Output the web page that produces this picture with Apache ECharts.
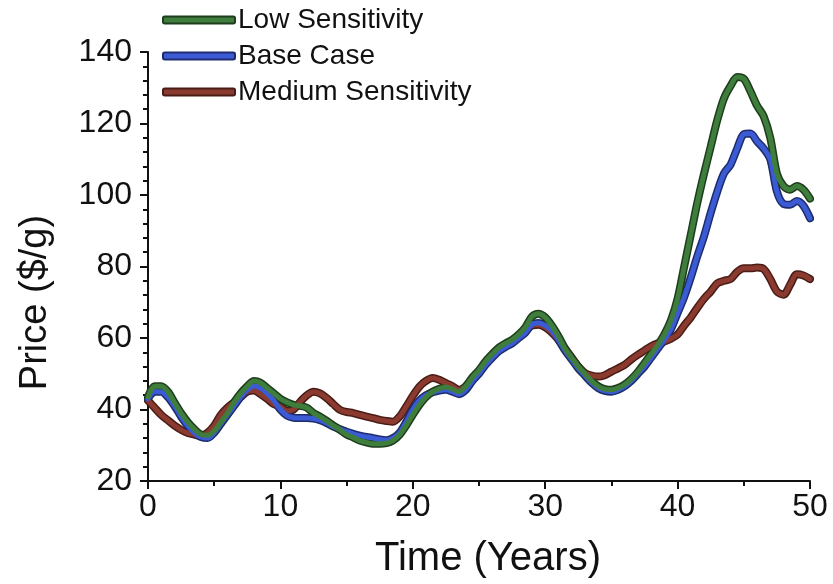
<!DOCTYPE html>
<html>
<head>
<meta charset="utf-8">
<script src="https://cdn.jsdelivr.net/npm/echarts@6/dist/echarts.min.js"></script>
<style>
html,body{margin:0;padding:0;background:#fff;}
#chart{width:833px;height:584px;}
</style>
</head>
<body>
<div id="chart"></div>
<script>
// Years (0 to 50, every half year)
var years = [];
for (var i = 0; i <= 100; i++) years.push(i / 2);

var seriesNames = ['Low Sensitivity', 'Base Case', 'Medium Sensitivity'];

var lowSensitivity = [
  43.5, 46.5, 46.5, 45, 42, 39, 36.5, 34.5, 33, 32.8,
  34, 36.5, 39, 42, 44.5, 46.5, 48, 47.5, 46, 44.5,
  43, 42, 41.3, 41, 40.5, 39, 38, 36.8, 35.5, 34.3,
  33, 32.2, 31.3, 30.8, 30.4, 30.4, 30.6, 31.3, 32.9, 35.5,
  38.5, 41.3, 43.5, 45, 45.8, 46.3, 45.7, 45, 46.5, 49,
  51, 53.5, 55.5, 57.3, 58.5, 59.5, 61, 63, 66, 66.8,
  65.8, 63.5, 60.5, 57, 54.5, 52, 50, 48, 46.5, 45.7,
  45.5, 46, 47, 48.5, 50.5, 53, 55.5, 58, 61, 65,
  71, 80, 89, 98, 106, 113.5, 121, 127, 130.5, 133,
  132.5, 129, 125, 122, 116, 106, 102.5, 101.5, 102.5, 101.5,
  99
];

var baseCase = [
  43, 45, 45, 43.5, 41, 38, 35.5, 33.5, 32.3, 32,
  33.5, 36, 38.5, 41, 43.5, 45.5, 46.6, 46, 44.5, 42.5,
  40, 38.3, 37.7, 37.6, 37.6, 37.5, 37, 36.2, 35.2, 34.5,
  33.8, 33.2, 32.7, 32.3, 32, 31.6, 31.4, 32, 33.5, 36.5,
  40, 42.5, 44, 44.8, 45.3, 45.5, 45, 44.3, 45.5, 48,
  50, 52.5, 54.5, 56.3, 57.5, 58.5, 60, 61.5, 63.8, 64.2,
  63.5, 62, 59.5, 56.5, 54, 51.5, 49.5, 47.5, 46, 45.2,
  45, 45.5, 46.5, 48, 50, 52, 54.5, 57, 59.5, 62.5,
  67, 71.5, 77, 83, 88.5, 95, 101, 106, 108.5, 113,
  117, 117.2, 115, 113, 110, 101, 97.5, 97.3, 98.3, 97,
  93.5
];

var mediumSensitivity = [
  42.5, 40.5, 38.5, 37, 35.5, 34.3, 33.4, 33, 32.6, 33.5,
  35.5, 38.5, 40.5, 42, 43.5, 45, 45.3, 44.3, 43, 41.5,
  40.8, 39.6, 40, 42.2, 44, 45, 44.5, 43.2, 41.5, 39.9,
  39.3, 39, 38.5, 38, 37.6, 37.1, 36.8, 36.6, 38, 40.8,
  43.8, 46.4, 48, 48.8, 48.3, 47.4, 46.5, 45.5, 46.5, 48.5,
  50.5, 53, 55, 56.8, 58, 59, 60.5, 62, 63.5, 63.7,
  63, 61.5, 59.5, 57, 54.5, 52, 50.2, 49.5, 49.2, 49.6,
  50.6, 51.5, 52.5, 54, 55.3, 56.5, 57.7, 58.5, 59, 59.8,
  61, 63.5, 65.8, 68.5, 71, 73, 75.3, 76, 76.5, 78.5,
  79.5, 79.5, 79.7, 79.3, 76.5, 73, 72.1, 74.9, 77.8, 77.5,
  76.5
];

var xTicks = [0, 10, 20, 30, 40, 50];
var yTicks = [20, 40, 60, 80, 100, 120, 140];

function pairs(vals) {
  return years.map(function (x, i) { return [x, vals[i]]; });
}

var fills = { 'Low Sensitivity': '#3e7d3c', 'Base Case': '#3a5bd4', 'Medium Sensitivity': '#8a3a2f' };
var edges = { 'Low Sensitivity': '#1e3d1c', 'Base Case': '#1e2c6e', 'Medium Sensitivity': '#4a1c16' };
var dataByName = { 'Low Sensitivity': lowSensitivity, 'Base Case': baseCase, 'Medium Sensitivity': mediumSensitivity };

var drawOrder = ['Medium Sensitivity', 'Base Case', 'Low Sensitivity'];
var series = [];
drawOrder.forEach(function (name) {
  series.push({
    name: name + ' outline',
    type: 'line',
    data: pairs(dataByName[name]),
    showSymbol: false,
    smooth: 0.3,
    silent: true,
    lineStyle: { width: 8, color: edges[name], cap: 'round', join: 'round' },
    itemStyle: { color: edges[name] },
    z: 2
  });
  series.push({
    name: name,
    type: 'line',
    data: pairs(dataByName[name]),
    showSymbol: false,
    smooth: 0.3,
    lineStyle: { width: 5, color: fills[name], cap: 'round', join: 'round' },
    itemStyle: { color: fills[name], borderColor: edges[name], borderWidth: 1.5 },
    z: 3
  });
});

var FONT = 'Liberation Sans, Arial, sans-serif';
var chart = echarts.init(document.getElementById('chart'), null, { renderer: 'canvas' });
chart.setOption({
  animation: false,
  backgroundColor: '#ffffff',
  textStyle: { fontFamily: FONT },
  grid: { left: 148, right: 23, top: 52, bottom: 103, containLabel: false },
  legend: {
    data: seriesNames,
    orient: 'vertical',
    left: 157,
    top: 1,
    icon: 'roundRect',
    itemWidth: 72,
    itemHeight: 7,
    itemGap: 8,
    selectedMode: false,
    textStyle: { fontSize: 28, color: '#111', fontFamily: FONT, padding: [0, 0, 0, -2] }
  },
  xAxis: {
    type: 'value',
    min: xTicks[0],
    max: xTicks[xTicks.length - 1],
    interval: 10,
    name: 'Time (Years)',
    nameLocation: 'middle',
    nameGap: 58,
    nameTextStyle: { fontSize: 40, color: '#111', padding: [0, 0, 0, 18] },
    axisLine: { lineStyle: { color: '#111', width: 2 } },
    axisTick: { show: true, inside: false, length: 8, lineStyle: { width: 2, color: '#111' } },
    minorTick: { show: true, splitNumber: 2, length: 5, lineStyle: { width: 2, color: '#111' } },
    axisLabel: { fontSize: 32, color: '#111', margin: 10 },
    splitLine: { show: false }
  },
  yAxis: {
    type: 'value',
    min: yTicks[0],
    max: yTicks[yTicks.length - 1],
    interval: 20,
    name: 'Price ($/g)',
    nameLocation: 'middle',
    nameGap: 93,
    nameRotate: 90,
    nameTextStyle: { fontSize: 38, color: '#111', padding: [0, 72, 0, 0] },
    axisLine: { show: true, lineStyle: { color: '#111', width: 2 } },
    axisTick: { show: true, inside: false, length: 8, lineStyle: { width: 2, color: '#111' } },
    minorTick: { show: true, splitNumber: 5, length: 5, lineStyle: { width: 2, color: '#111' } },
    axisLabel: { fontSize: 32, color: '#111', margin: 16 },
    splitLine: { show: false }
  },
  series: series
});
</script>
</body>
</html>
